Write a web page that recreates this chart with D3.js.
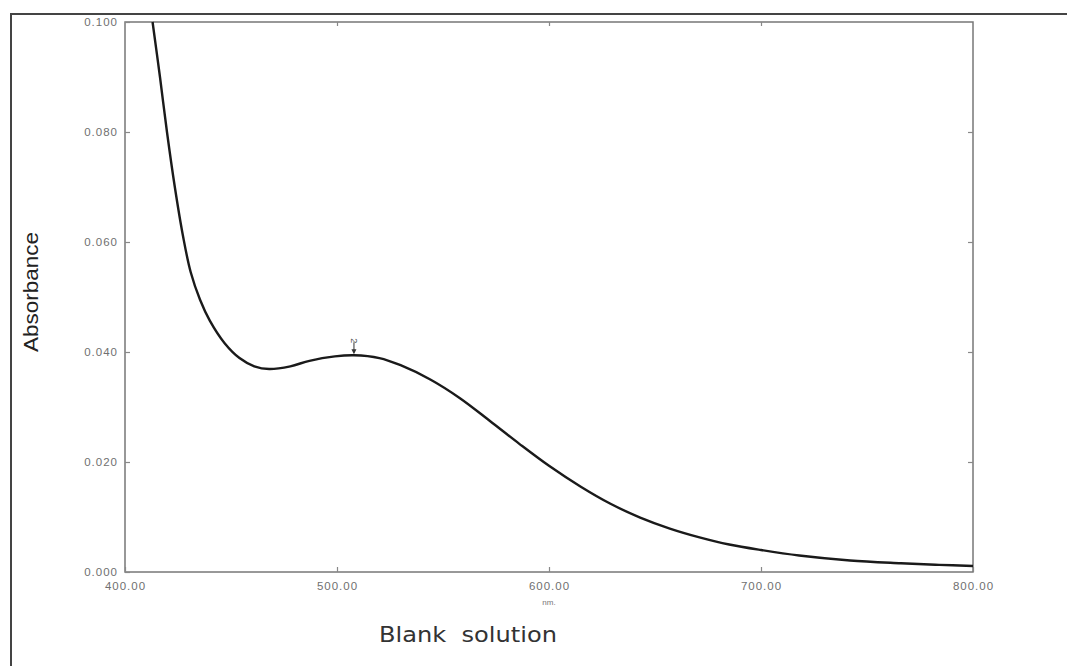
<!DOCTYPE html>
<html>
<head>
<meta charset="utf-8">
<script src="https://cdn.jsdelivr.net/npm/d3@7"></script>
<style>
  body { margin: 0; background: #fff; }
  svg { display: block; }
</style>
</head>
<body>
<script>
// spectrum: wavelength (nm) and absorbance
const wavelength = [413, 416.5, 419.8, 423.5, 427.4, 431, 435.4, 440, 447, 454, 461, 468, 478, 487, 499, 508, 520, 530, 544, 558, 572, 586, 600, 615, 629, 643, 657, 671, 685, 700, 718, 742, 766, 784, 800];
const absorbance = [0.100, 0.090, 0.080, 0.070, 0.061, 0.0545, 0.0495, 0.0457, 0.0416, 0.0389, 0.0374, 0.0369, 0.0374, 0.0384, 0.0392, 0.0394, 0.0389, 0.0376, 0.0350, 0.0316, 0.0275, 0.0233, 0.0193, 0.0155, 0.0124, 0.0099, 0.0079, 0.0063, 0.0050, 0.0040, 0.0030, 0.0021, 0.0016, 0.0013, 0.0011];
const xTicks = [400, 500, 600, 700, 800];
const yTicks = [0.000, 0.020, 0.040, 0.060, 0.080, 0.100];
const peakNm = 508, peakAbs = 0.0394, peakLabel = "2";

const width = 1067, height = 666;
const margin = {left: 125, right: 94, top: 22, bottom: 94};

const svg = d3.select("body").append("svg").attr("width", width).attr("height", height);

// outer frame of the scanned page (top and left edges)
svg.append("path")
   .attr("d", `M11,${height} L11,14 L${width},14`)
   .attr("fill", "none")
   .attr("stroke", "#444")
   .attr("stroke-width", 2);

const innerW = width - margin.left - margin.right;
const innerH = height - margin.top - margin.bottom;

const xScale = d3.scaleLinear().domain([400, 800]).range([0, innerW]);
const yScale = d3.scaleLinear().domain([0, 0.1]).range([innerH, 0]);

const g = svg.append("g").attr("transform", `translate(${margin.left}, ${margin.top})`);

// plot box
g.append("rect")
 .attr("width", innerW).attr("height", innerH)
 .attr("fill", "none").attr("stroke", "#777").attr("stroke-width", 1.5);

const tickFont = "'Liberation Sans', Arial, sans-serif";

// x axis
const xAxis = d3.axisBottom(xScale).tickValues(xTicks).tickSize(-5).tickPadding(10)
                .tickFormat(d3.format(".2f"));
g.append("g").attr("class", "axis x")
 .attr("transform", `translate(0, ${innerH})`)
 .call(xAxis)
 .call(a => a.select(".domain").remove());

// ticks along the top
g.append("g").attr("class", "axis x-top")
 .call(d3.axisTop(xScale).tickValues(xTicks.slice(1, -1)).tickSize(-4).tickFormat(""))
 .call(a => a.select(".domain").remove());

// y axis
const yAxis = d3.axisLeft(yScale).tickValues(yTicks).tickSize(-5).tickPadding(7)
                .tickFormat(d3.format(".3f"));
g.append("g").attr("class", "axis y")
 .call(yAxis)
 .call(a => a.select(".domain").remove());

// ticks on the right side
g.append("g").attr("class", "axis y-right")
 .attr("transform", `translate(${innerW}, 0)`)
 .call(d3.axisRight(yScale).tickValues(yTicks.slice(1, -1)).tickSize(-5).tickFormat(""))
 .call(a => a.select(".domain").remove());

g.selectAll(".axis line").attr("stroke", "#888").attr("stroke-width", 1.2);
g.selectAll(".axis text")
 .attr("fill", "#707070")
 .style("font-family", tickFont)
 .style("font-size", "11.5px")
 .style("letter-spacing", "1px");

// "nm." under the x axis
g.append("text")
 .attr("x", xScale(600)).attr("y", innerH + 33)
 .attr("text-anchor", "middle")
 .attr("fill", "#777")
 .style("font-family", tickFont).style("font-size", "8px")
 .text("nm.");

// spectrum line
const dataArray = wavelength.map((w, i) => ({nm: w, a: absorbance[i]}));
const lineGenerator = d3.line()
                        .x(d => xScale(d.nm))
                        .y(d => yScale(d.a))
                        .curve(d3.curveCatmullRom.alpha(0.5));
g.append("path")
 .attr("fill", "none")
 .attr("stroke", "#1a1a1a")
 .attr("stroke-width", 2.4)
 .attr("d", lineGenerator(dataArray));

// peak marker
const px = xScale(peakNm), py = yScale(peakAbs);
g.append("line")
 .attr("x1", px).attr("x2", px).attr("y1", py - 13).attr("y2", py - 3)
 .attr("stroke", "#333").attr("stroke-width", 1);
g.append("path")
 .attr("d", `M${px - 2.5},${py - 6} L${px + 2.5},${py - 6} L${px},${py - 1} Z`)
 .attr("fill", "#333");
g.append("text")
 .attr("transform", `translate(${px - 3}, ${py - 17}) rotate(90)`)
 .attr("fill", "#555")
 .style("font-family", tickFont).style("font-size", "9px")
 .text(peakLabel);

// axis titles
svg.append("text")
   .attr("transform", `translate(38, 292) rotate(-90)`)
   .attr("text-anchor", "middle")
   .attr("fill", "#222")
   .style("font-family", tickFont)
   .style("font-size", "20px")
   .attr("textLength", 120)
   .attr("lengthAdjust", "spacingAndGlyphs")
   .text("Absorbance");

svg.append("text")
   .attr("x", 468).attr("y", 642)
   .attr("text-anchor", "middle")
   .attr("fill", "#333")
   .style("font-family", "'DejaVu Sans', Verdana, sans-serif")
   .style("font-size", "21px")
   .attr("xml:space", "preserve")
   .attr("textLength", 178)
   .attr("lengthAdjust", "spacingAndGlyphs")
   .text("Blank  solution");
</script>
</body>
</html>
